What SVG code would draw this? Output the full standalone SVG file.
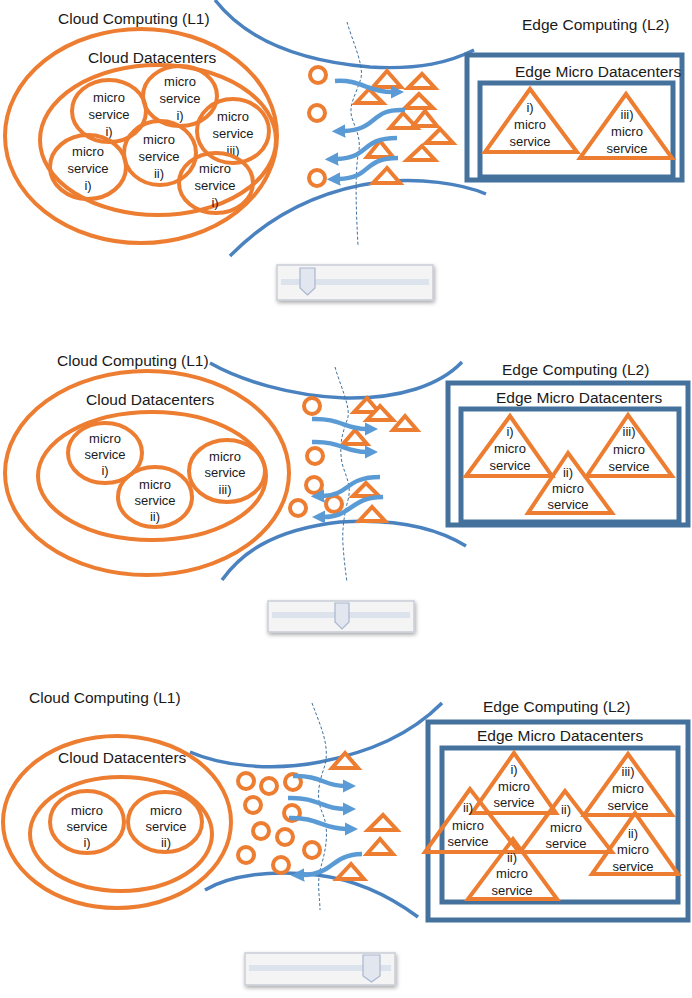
<svg xmlns="http://www.w3.org/2000/svg" width="692" height="998" viewBox="0 0 692 998">
<style>
.t{font-family:"Liberation Sans",Arial,sans-serif;fill:#1a1a1a}
.ti{font-size:15.5px}
.ms{font-size:13px;text-anchor:middle}
.org{fill:none;stroke:#ED7D31;stroke-width:4}
.orgw{fill:#fff;stroke:#ED7D31;stroke-width:4}
.sc{fill:#fff;stroke:#ED7D31;stroke-width:4}
.st{fill:#fff;stroke:#ED7D31;stroke-width:4;stroke-linejoin:miter}
.bt{fill:none;stroke:#ED7D31;stroke-width:4;stroke-linejoin:miter}
.box{fill:none;stroke:#44729D;stroke-width:5}
.curve{fill:none;stroke:#4A82C0;stroke-width:3.5}
.dash{fill:none;stroke:#41719C;stroke-width:1;stroke-dasharray:3 2}
.arr{fill:none;stroke:#5B9BD5;stroke-width:4.5;marker-end:url(#ah)}
.sl{fill:#F4F4F4;stroke:#C9CED6;stroke-width:1.5}
.trk{fill:#DDE3EC}
.th{fill:#E2E6EF;stroke:#A9B6CF;stroke-width:1.2}
</style>
<defs>
<marker id="ah" viewBox="0 0 10 10" refX="1" refY="5" markerWidth="3" markerHeight="3" orient="auto"><path d="M0,0 L10,5 L0,10 z" fill="#5B9BD5"/></marker>
<filter id="sh" x="-10%" y="-30%" width="120%" height="170%"><feDropShadow dx="1" dy="2" stdDeviation="2" flood-color="#000" flood-opacity="0.35"/></filter>
</defs>
<rect width="692" height="998" fill="#fff"/>

<!-- ============ PANEL 1 ============ -->
<g id="p1-curves">
<path class="curve" d="M 215 0 C 250 45, 310 62, 370 67 C 420 70, 450 62, 474 50"/>
<path class="curve" d="M 230 256 C 270 215, 320 190, 380 182 C 420 178, 460 183, 486 194"/>
<path class="dash" d="M 347 22 C 352 40, 364 65, 361 78 C 356 95, 348 105, 352 118 C 356 130, 362 140, 358 155 C 355 175, 356 210, 358 245"/>
</g>
<g id="p1-cloud">
<text class="t ti" x="58" y="24">Cloud Computing (L1)</text>
<ellipse class="org" cx="141" cy="136" rx="136" ry="107"/>
<text class="t ti" x="88" y="63">Cloud Datacenters</text>
<ellipse class="org" cx="158" cy="140" rx="118" ry="75"/>
</g>
<g id="p1-ms1"><ellipse class="org" cx="109" cy="111" rx="37" ry="31"/><text class="t ms" x="109"><tspan x="109" y="102">micro</tspan><tspan x="109" y="119">service</tspan><tspan x="109" y="136">i)</tspan></text></g>
<g id="p1-ms2"><ellipse class="org" cx="180" cy="96" rx="37" ry="30"/><text class="t ms"><tspan x="180" y="86">micro</tspan><tspan x="180" y="103">service</tspan><tspan x="180" y="120">i)</tspan></text></g>
<g id="p1-ms3"><ellipse class="org" cx="233" cy="131" rx="36" ry="32"/><text class="t ms"><tspan x="233" y="121">micro</tspan><tspan x="233" y="138">service</tspan><tspan x="233" y="155">iii)</tspan></text></g>
<g id="p1-ms4"><ellipse class="org" cx="88" cy="167" rx="38" ry="32"/><text class="t ms"><tspan x="88" y="156">micro</tspan><tspan x="88" y="173">service</tspan><tspan x="88" y="190">i)</tspan></text></g>
<g id="p1-ms5"><ellipse class="org" cx="160" cy="153" rx="36" ry="32"/><text class="t ms"><tspan x="159" y="144">micro</tspan><tspan x="159" y="161">service</tspan><tspan x="159" y="178">ii)</tspan></text></g>
<g id="p1-ms6"><ellipse class="org" cx="216" cy="183" rx="37" ry="30"/><text class="t ms"><tspan x="215" y="173">micro</tspan><tspan x="215" y="190">service</tspan><tspan x="215" y="207">i)</tspan></text></g>
<g id="p1-reqs">
<circle class="sc" cx="318" cy="75" r="8"/>
<circle class="sc" cx="317" cy="113" r="8"/>
<circle class="sc" cx="317" cy="178" r="8"/>
</g>
<g id="p1-tris">
<polygon class="st" points="387,71 373,87 401,87"/>
<polygon class="st" points="422,74 408,88 435,88"/>
<polygon class="st" points="369,89 356,103 383,103"/>
<polygon class="st" points="419,94 405,108 433,108"/>
<polygon class="st" points="403,113 390,128 417,128"/>
<polygon class="st" points="425,111 413,126 437,126"/>
<polygon class="st" points="440,129 426,143 453,143"/>
<polygon class="st" points="380,141 367,157 393,157"/>
<polygon class="st" points="422,146 407,160 435,160"/>
<polygon class="st" points="387,168 373,183 400,183"/>
</g>
<g id="p1-edge">
<text class="t ti" x="522" y="30">Edge Computing (L2)</text>
<rect class="box" x="467" y="55" width="215" height="125"/>
<text class="t ti" x="515" y="77">Edge Micro Datacenters</text>
<rect class="box" x="480" y="83" width="193" height="94"/>
</g>
<g id="p1-ems1"><polygon class="bt" points="530,89 485,152 577,152"/><text class="t ms"><tspan x="530" y="112">i)</tspan><tspan x="530" y="129">micro</tspan><tspan x="530" y="146">service</tspan></text></g>
<g id="p1-ems3"><polygon class="bt" points="626,94 580,158 672,158"/><text class="t ms"><tspan x="627" y="119">iii)</tspan><tspan x="627" y="136">micro</tspan><tspan x="627" y="153">service</tspan></text></g>
<g id="p1-slider" >
<rect class="sl" x="277" y="265" width="156" height="35" filter="url(#sh)"/>
<rect class="trk" x="281" y="279" width="148" height="6"/>
<path class="th" d="M 300 268 L 315 268 L 315 288 L 307.5 295 L 300 288 Z"/>
</g>
<g id="p1-connectors">
<path class="arr" d="M 335 81 C 360 79, 368 92, 392 92"/>
<path class="arr" d="M 405 110 C 370 108, 378 130, 344 131"/>
<path class="arr" d="M 397 138 C 360 138, 370 158, 337 159"/>
<path class="arr" d="M 398 158 C 362 158, 372 178, 339 179"/>
</g>

<!-- ============ PANEL 2 ============ -->
<g id="p2-curves">
<path class="curve" d="M 210 363 C 240 380, 290 396, 345 398 C 400 399, 440 385, 462 362"/>
<path class="curve" d="M 222 580 C 240 555, 270 530, 340 522 C 400 518, 440 530, 466 546"/>
<path class="dash" d="M 335 367 C 340 385, 350 405, 348 417 C 345 428, 338 440, 342 463 C 345 475, 352 485, 348 500 C 344 515, 342 530, 343 545 C 344 560, 346 575, 347 582"/>
</g>
<g id="p2-cloud">
<text class="t ti" x="57" y="366">Cloud Computing (L1)</text>
<ellipse class="org" cx="147" cy="473" rx="142" ry="102"/>
<text class="t ti" x="86" y="405">Cloud Datacenters</text>
<ellipse class="org" cx="152" cy="476" rx="114" ry="64"/>
</g>
<g id="p2-ms1"><ellipse class="org" cx="105" cy="453" rx="37" ry="30"/><text class="t ms"><tspan x="105" y="443">micro</tspan><tspan x="105" y="459">service</tspan><tspan x="105" y="475">i)</tspan></text></g>
<g id="p2-ms2"><ellipse class="org" cx="155" cy="497" rx="37" ry="30"/><text class="t ms"><tspan x="155" y="489">micro</tspan><tspan x="155" y="505">service</tspan><tspan x="155" y="521">ii)</tspan></text></g>
<g id="p2-ms3"><ellipse class="org" cx="227" cy="471" rx="38" ry="31"/><text class="t ms"><tspan x="225" y="461">micro</tspan><tspan x="225" y="477">service</tspan><tspan x="225" y="494">iii)</tspan></text></g>
<g id="p2-reqs">
<circle class="sc" cx="312" cy="406" r="8"/>
<circle class="sc" cx="315" cy="456" r="8"/>
<circle class="sc" cx="314" cy="485" r="8"/>
<circle class="sc" cx="298" cy="508" r="8"/>
<circle class="sc" cx="334" cy="504" r="8"/>
</g>
<g id="p2-tris">
<polygon class="st" points="367,398 354,412 379,412"/>
<polygon class="st" points="380,406 367,420 393,420"/>
<polygon class="st" points="405,416 393,430 417,430"/>
<polygon class="st" points="355,430 343,444 367,444"/>
<polygon class="st" points="366,483 353,496 379,496"/>
<polygon class="st" points="372,507 359,521 385,521"/>
</g>
<g id="p2-edge">
<text class="t ti" x="502" y="375">Edge Computing (L2)</text>
<rect class="box" x="448" y="383" width="240" height="142"/>
<text class="t ti" x="496" y="403">Edge Micro Datacenters</text>
<rect class="box" x="461" y="409" width="218" height="113"/>
</g>
<g id="p2-ems1"><polygon class="bt" points="510,416 466,476 552,476"/><text class="t ms"><tspan x="510" y="436">i)</tspan><tspan x="510" y="453">micro</tspan><tspan x="510" y="470">service</tspan></text></g>
<g id="p2-ems3"><polygon class="bt" points="628,415 587,476 672,476"/><text class="t ms"><tspan x="629" y="436">iii)</tspan><tspan x="629" y="454">micro</tspan><tspan x="629" y="471">service</tspan></text></g>
<g id="p2-ems2"><polygon class="bt" points="568,453 528,513 612,513"/><text class="t ms"><tspan x="568" y="477">ii)</tspan><tspan x="568" y="493">micro</tspan><tspan x="568" y="509">service</tspan></text></g>
<g id="p2-slider">
<rect class="sl" x="268" y="601" width="146" height="31" filter="url(#sh)"/>
<rect class="trk" x="272" y="612" width="138" height="6"/>
<path class="th" d="M 335 603 L 349 603 L 349 622 L 342 629 L 335 622 Z"/>
</g>
<g id="p2-connectors">
<path class="arr" d="M 312 419 C 340 418, 345 429, 366 429"/>
<path class="arr" d="M 312 442 C 340 441, 345 452, 366 452"/>
<path class="arr" d="M 380 477 C 345 477, 350 495, 323 496"/>
<path class="arr" d="M 383 497 C 350 497, 352 517, 324 517"/>
</g>

<!-- ============ PANEL 3 ============ -->
<g id="p3-curves">
<path class="curve" d="M 190 752 C 220 765, 270 772, 320 762 C 370 752, 410 735, 442 703"/>
<path class="curve" d="M 205 890 C 230 875, 270 870, 317 875 C 360 880, 395 900, 418 917"/>
<path class="dash" d="M 312 703 C 320 725, 330 745, 325 765 C 320 780, 315 795, 322 812 C 330 830, 326 850, 320 870 C 317 885, 320 900, 320 910"/>
</g>
<g id="p3-cloud">
<text class="t ti" x="29" y="703">Cloud Computing (L1)</text>
<ellipse class="org" cx="117" cy="822" rx="114" ry="86"/>
<text class="t ti" x="58" y="763">Cloud Datacenters</text>
<ellipse class="org" cx="121" cy="834" rx="91" ry="57"/>
</g>
<g id="p3-ms1"><ellipse class="org" cx="87" cy="822" rx="37" ry="31"/><text class="t ms"><tspan x="87" y="815">micro</tspan><tspan x="87" y="831">service</tspan><tspan x="87" y="847">i)</tspan></text></g>
<g id="p3-ms2"><ellipse class="org" cx="165" cy="822" rx="37" ry="30"/><text class="t ms"><tspan x="166" y="815">micro</tspan><tspan x="166" y="831">service</tspan><tspan x="166" y="847">ii)</tspan></text></g>
<g id="p3-reqs">
<circle class="sc" cx="246" cy="781" r="8"/>
<circle class="sc" cx="269" cy="786" r="8"/>
<circle class="sc" cx="293" cy="782" r="8"/>
<circle class="sc" cx="253" cy="805" r="8"/>
<circle class="sc" cx="292" cy="813" r="8"/>
<circle class="sc" cx="261" cy="831" r="8"/>
<circle class="sc" cx="285" cy="837" r="8"/>
<circle class="sc" cx="312" cy="850" r="8"/>
<circle class="sc" cx="246" cy="855" r="8"/>
<circle class="sc" cx="281" cy="865" r="8"/>
</g>
<g id="p3-tris">
<polygon class="st" points="345,753 332,768 358,768"/>
<polygon class="st" points="383,815 368,830 397,830"/>
<polygon class="st" points="380,839 367,854 393,854"/>
<polygon class="st" points="351,864 337,879 364,879"/>
</g>
<g id="p3-edge">
<text class="t ti" x="483" y="712">Edge Computing (L2)</text>
<rect class="box" x="428" y="722" width="260" height="198"/>
<text class="t ti" x="477" y="741">Edge Micro Datacenters</text>
<rect class="box" x="442" y="748" width="236" height="154"/>
</g>
<g id="p3-ems1"><polygon class="bt" points="514,753 472,813 556,813"/><text class="t ms"><tspan x="514" y="774">i)</tspan><tspan x="514" y="791">micro</tspan><tspan x="514" y="807">service</tspan></text></g>
<g id="p3-ems3"><polygon class="bt" points="628,754 584,815 672,815"/><text class="t ms"><tspan x="628" y="776">iii)</tspan><tspan x="628" y="793">micro</tspan><tspan x="628" y="810">service</tspan></text></g>
<g id="p3-ems2a"><polygon class="bt" points="470,789 425,852 519,852"/><text class="t ms"><tspan x="468" y="812">ii)</tspan><tspan x="468" y="830">micro</tspan><tspan x="468" y="846">service</tspan></text></g>
<g id="p3-ems2b"><polygon class="bt" points="565,791 520,852 612,852"/><text class="t ms"><tspan x="566" y="814">ii)</tspan><tspan x="566" y="832">micro</tspan><tspan x="566" y="848">service</tspan></text></g>
<g id="p3-ems2c"><polygon class="bt" points="635,813 592,874 678,874"/><text class="t ms"><tspan x="633" y="838">ii)</tspan><tspan x="633" y="854">micro</tspan><tspan x="633" y="871">service</tspan></text></g>
<g id="p3-ems2d"><polygon class="bt" points="513,839 468,899 557,899"/><text class="t ms"><tspan x="512" y="862">ii)</tspan><tspan x="512" y="878">micro</tspan><tspan x="512" y="895">service</tspan></text></g>
<g id="p3-slider">
<rect class="sl" x="245" y="953" width="150" height="32" filter="url(#sh)"/>
<rect class="trk" x="249" y="965" width="142" height="6"/>
<path class="th" d="M 363 955 L 380 955 L 380 976 L 371.5 982 L 363 976 Z"/>
</g>
<g id="p3-connectors">
<path class="arr" d="M 293 776 C 320 775, 325 786, 344 786"/>
<path class="arr" d="M 288 798 C 318 797, 322 809, 344 809"/>
<path class="arr" d="M 289 818 C 318 817, 322 829, 346 829"/>
<path class="arr" d="M 362 854 C 330 855, 335 874, 303 875"/>
</g>
</svg>
